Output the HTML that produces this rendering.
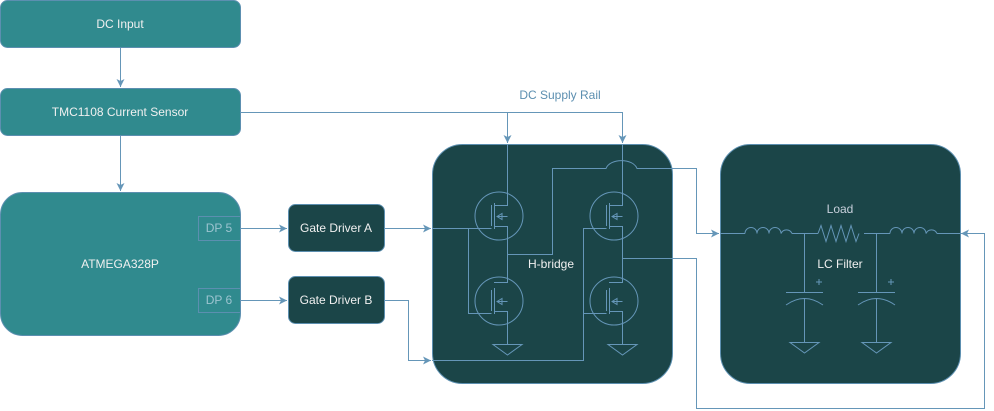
<!DOCTYPE html>
<html><head><meta charset="utf-8"><style>
html,body{margin:0;padding:0;background:#fff;}
svg{display:block;font-family:"Liberation Sans",sans-serif;}
</style></head><body>
<svg width="994" height="411" viewBox="0 0 994 411" xmlns="http://www.w3.org/2000/svg">
<defs>
<marker id="a" markerWidth="10" markerHeight="10" refX="9" refY="5" orient="auto" markerUnits="userSpaceOnUse">
<path d="M1,1 L9,5 L1,9 L3,5 Z" fill="#6596b8"/></marker>
</defs>
<g stroke="#5c8fb0" stroke-width="1">
<rect x="0.5" y="0.5" width="240" height="47" rx="7" fill="#308a8e"/>
<rect x="0.5" y="88.5" width="240" height="47" rx="7" fill="#308a8e"/>
<rect x="0.5" y="192.5" width="240" height="143" rx="22" fill="#308a8e"/>
<rect x="198.5" y="216.5" width="42" height="24" fill="none"/>
<rect x="198.5" y="288.5" width="42" height="24" fill="none"/>
<rect x="288.5" y="204.5" width="96" height="47" rx="7" fill="#1b4548"/>
<rect x="288.5" y="276.5" width="96" height="47" rx="7" fill="#1b4548"/>
<rect x="432.5" y="144.5" width="240" height="239" rx="30" fill="#1b4548"/>
<rect x="720.5" y="144.5" width="240" height="239" rx="30" fill="#1b4548"/>
</g>
<g fill="none" stroke="#6596b8" stroke-width="1">
<path d="M120.5 48 V87" marker-end="url(#a)"/>
<path d="M120.5 136 V191" marker-end="url(#a)"/>
<path d="M240 112.5 H622.5 V143" marker-end="url(#a)"/>
<path d="M507.5 112.5 V143" marker-end="url(#a)"/>
<path d="M240 228.5 H287" marker-end="url(#a)"/>
<path d="M240 300.5 H287" marker-end="url(#a)"/>
<path d="M384 228.5 H431" marker-end="url(#a)"/>
<path d="M384 300.5 H408.5 V360.5 H431" marker-end="url(#a)"/>
<path d="M432 228.5 H491.5 M468.5 228.5 V313.5 H491.5"/>
<path d="M432 360.5 H583.5 V228.5 H606.5 M583.5 313.5 H606.5"/>
<path d="M507.5 144 V205.5 H494 M494 226.5 H507.5 V282.5 H494 M494 311.5 H507.5 V344"/>
<path d="M622.5 144 V205.5 H609 M609 226.5 H622.5 V282.5 H609 M609 311.5 H622.5 V344"/>
<path d="M507.5 254.5 H552.5 V168.5 H606 C610 158 633 158 637 168.5 H696.5 V233.5 H719" marker-end="url(#a)"/>
<path d="M622.5 258.5 H696.5 V408.5 H984.5 V233.5 H961" marker-end="url(#a)"/>
<circle cx="499" cy="216" r="24"/><circle cx="499" cy="301" r="24"/>
<circle cx="614" cy="216" r="24"/><circle cx="614" cy="301" r="24"/>
<path d="M491.5 205 V226 M494.5 203 V229 M491.5 290 V311 M494.5 288 V314"/>
<path d="M606.5 205 V226 M609.5 203 V229 M606.5 290 V311 M609.5 288 V314"/>
<path d="M497 216.5 H507.5 M497 301.5 H507.5 M612 216.5 H622.5 M612 301.5 H622.5"/>
<path d="M497 216.5 l5 -3 v6 z M497 301.5 l5 -3 v6 z M612 216.5 l5 -3 v6 z M612 301.5 l5 -3 v6 z"/>
<path d="M493 344.5 H522 L507.5 355 Z M608 344.5 H637 L622.5 355 Z"/>
<path d="M720 233.5 H745 M792 233.5 H818 M864 233.5 H890 M937 233.5 H960"/>
<path d="M745 233.5 a6 6 0 0 1 12 0 a6 6 0 0 1 12 0 a6 6 0 0 1 12 0 a6 6 0 0 1 11 0"/>
<path d="M890 233.5 a6 6 0 0 1 12 0 a6 6 0 0 1 12 0 a6 6 0 0 1 12 0 a6 6 0 0 1 11 0"/>
<path d="M818 233.5 l3 -8 l5 16 l5 -16 l5 16 l5 -16 l5 16 l5 -16 l5 16 l3 -8"/>
<path d="M804.5 233.5 V292 M786 292.5 H823 M786 305 Q804.5 292 823 305 M804.5 299 V342"/>
<path d="M876.5 233.5 V292 M858 292.5 H895 M858 305 Q876.5 292 895 305 M876.5 299 V342"/>
<path d="M790 342.5 H819 L804.5 353 Z M862 342.5 H891 L876.5 353 Z"/>
<path d="M816 282 h6 M819 279 v6 M888 282 h6 M891 279 v6"/>
</g>
<g font-size="12" fill="#f0f0f0" text-anchor="middle">
<text x="120" y="28">DC Input</text>
<text x="120" y="116">TMC1108 Current Sensor</text>
<text x="120" y="268">ATMEGA328P</text>
<text x="336" y="232">Gate Driver A</text>
<text x="336" y="304">Gate Driver B</text>
<text x="551" y="268">H-bridge</text>
<text x="840" y="213" fill="#c8d0dc">Load</text>
<text x="840" y="268">LC Filter</text>
<text x="219" y="232" fill="#9cc4d0">DP 5</text>
<text x="219" y="304" fill="#9cc4d0">DP 6</text>
<text x="560" y="99" fill="#5c8fb0">DC Supply Rail</text>
</g>
</svg>
</body></html>
